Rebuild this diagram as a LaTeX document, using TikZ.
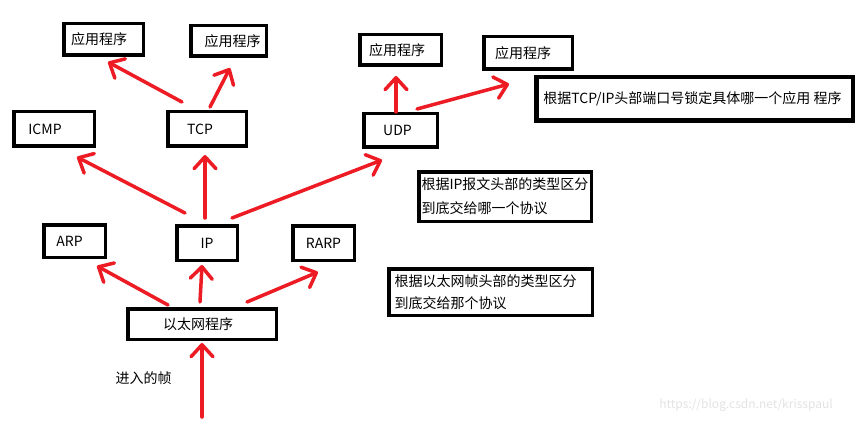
\documentclass[tikz,border=0pt]{standalone}
\usepackage{fontspec}
\setmainfont{Noto Sans CJK SC}
\usetikzlibrary{arrows.meta,calc}
\definecolor{pred}{RGB}{237,28,36}
\newcommand{\hsh}[2]{\hspace*{#1}#2\hspace*{-#1}}
\begin{document}
\begin{tikzpicture}[x=1pt,y=-1pt,
  box/.style={draw=black, line width=3.5pt, inner sep=0pt, font=\fontsize{14pt}{17pt}\selectfont},
  notebox/.style={box, align=left},
  plain/.style={inner sep=0pt, font=\fontsize{14pt}{17pt}\selectfont},
  arr/.style={draw=pred, line width=3.5pt, line cap=round, line join=round,
    -{Straight Barb[length=12pt,width=22pt,round]}},
]
\useasboundingbox (0,0) rectangle (862,425);
\fill[white] (0,0) rectangle (862,425);

% application boxes
\node[box, minimum width=79.5pt, minimum height=31.5pt] (app1) at (103.5,39.5) {\hsh{-4.5pt}{应用程序}};
\node[box, minimum width=75.5pt, minimum height=30.5pt] (app2) at (228.5,41) {\hsh{4pt}{应用程序}};
\node[box, minimum width=81.5pt, minimum height=30.5pt] (app3) at (400.5,50) {\hsh{-3.5pt}{应用程序}};
\node[box, minimum width=88.5pt, minimum height=32.5pt] (app4) at (528,53) {\hsh{-5pt}{应用程序}};

% transport layer
\node[box, minimum width=80.5pt, minimum height=34.5pt] (icmp) at (54,129) {\hsh{-9pt}{ICMP}};
\node[box, minimum width=78.5pt, minimum height=34.5pt] (tcp) at (207,129) {\hsh{-7pt}{TCP}};
\node[box, minimum width=73.5pt, minimum height=33.5pt] (udp) at (400.5,130.5) {\hsh{-3pt}{UDP}};

% network layer
\node[box, minimum width=61.5pt, minimum height=32.5pt] (arp) at (74.5,241) {\hsh{-5pt}{ARP}};
\node[box, minimum width=60.5pt, minimum height=34.5pt] (ip) at (207,243) {IP};
\node[box, minimum width=61.5pt, minimum height=34.5pt] (rarp) at (323.5,243) {RARP};

% ethernet
\node[box, minimum width=148.5pt, minimum height=30.5pt] (eth) at (202,324) {\hsh{-4pt}{以太网程序}};

% notes
\node[box, line width=4.5pt, minimum width=316.5pt, minimum height=43.5pt] (note1) at (694.5,99) {\hsh{-2pt}{根据TCP/IP头部端口号锁定具体哪一个应用 程序}};
\node[notebox, font=\fontsize{14pt}{24pt}\selectfont, minimum width=172.5pt, minimum height=49.5pt] (note2) at (505,196.5) {根据IP报文头部的类型区分\\到底交给哪一个协议};
\node[notebox, font=\fontsize{14pt}{22pt}\selectfont, minimum width=203.5pt, minimum height=46.5pt] (note3) at (490.5,292) {\hsh{-5pt}{根据以太网帧头部的类型区分}\\\hsh{-5pt}{到底交给那个协议}};

% incoming label
\node[plain] (inlbl) at (143.5,378) {进入的帧};
\coordinate (src) at (202,417);

% watermark
\node[inner sep=0pt, font=\fontsize{12pt}{14pt}\selectfont, text=black!11] (wm) at (746,405) {https://blog.csdn.net/krisspaul};

% arrows
\draw[arr] ($(tcp)+(-25,-27)$) -- ($(app1)+(4.5,22.5)$);
\draw[arr] ($(tcp)+(3,-22)$) -- ($(app2)+(1.5,27)$);
\draw[arr] ($(udp)+(-4.5,-18.5)$) -- ($(app3)+(-4.5,26)$);
\draw[arr] ($(udp)+(16.5,-21.5)$) -- ($(app4)+(-19,31)$);
\draw[arr] ($(ip)+(-22,-30)$) -- ($(icmp)+(23,28)$);
\draw[arr] ($(ip)+(-2,-25)$) -- ($(tcp)+(-2,26)$);
\draw[arr] ($(ip)+(25,-25)$) -- ($(udp)+(-18.5,29.5)$);
\draw[arr] ($(eth)+(-34,-19)$) -- ($(arp)+(22.5,25)$);
\draw[arr] ($(eth)+(-2,-22)$) -- ($(ip)+(-5,22)$);
\draw[arr] ($(eth)+(45,-22)$) -- ($(rarp)+(-5.5,29)$);
\draw[arr] (src) -- ($(eth)+(0,19)$);
\end{tikzpicture}
\end{document}
